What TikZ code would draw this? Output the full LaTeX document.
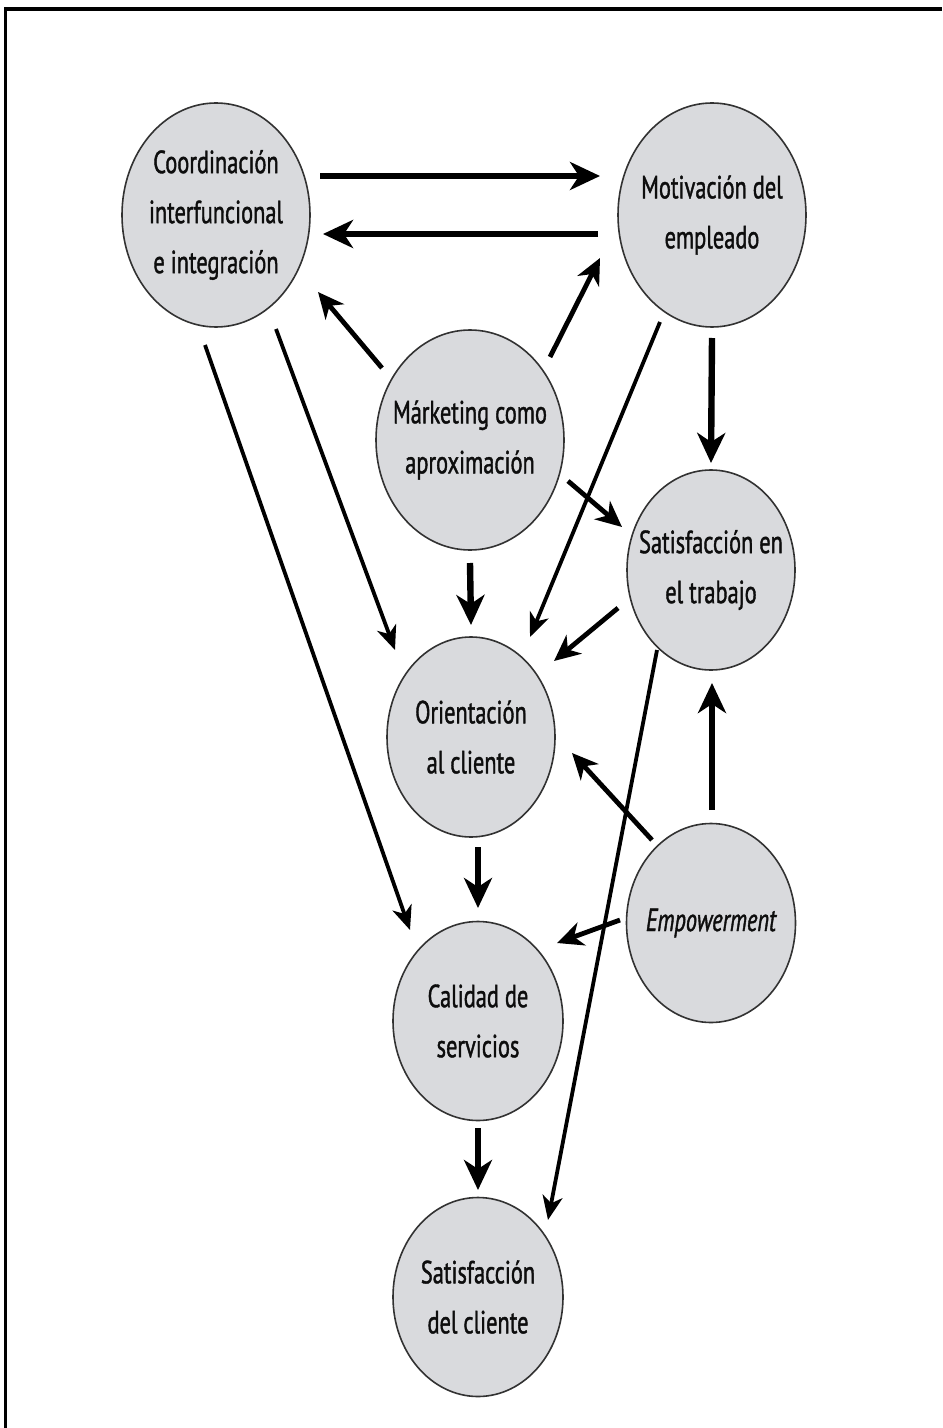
\documentclass[tikz,border=0pt]{standalone}
\usepackage{fontspec}
\setmainfont{PT Sans}[FakeStretch=0.7, FakeBold=1.2]
\usetikzlibrary{shapes.geometric,arrows.meta,calc}
\definecolor{bubblefill}{RGB}{217,218,221}
\definecolor{bubbleline}{RGB}{50,50,50}

\begin{document}
\begin{tikzpicture}[
  x=0.5pt, y=-0.5pt,
  % negative inner sep: the size of each ellipse is set by its minimum width/height only
  bubble/.style={ellipse, draw=bubbleline, line width=0.8pt, fill=bubblefill,
    inner xsep=-40pt, inner ysep=-40pt, align=center, text=black!95,
    font=\fontsize{16}{25}\selectfont},
  bigarr/.style={line width=3.2pt, -{Stealth[length=15pt,width=14pt,inset=4.5pt]}},
  midarr/.style={line width=2.4pt, -{Stealth[length=13pt,width=12pt,inset=4pt]}},
  thinarr/.style={line width=1.9pt, -{Stealth[length=12pt,width=10pt,inset=3.5pt]}}
]
\useasboundingbox (0,0) rectangle (942,1428);
\fill[white] (0,0) rectangle (942,1428);

% frame (top and left edges)
\draw[line width=2pt] (4,9) -- (942,9);
\draw[line width=1.3pt] (5.5,8) -- (5.5,1428);

% concepts
\node[bubble, minimum width=94pt, minimum height=112pt] (coord) at (216,215)
  {Coordinación\\interfuncional\\e integración};
\node[bubble, minimum width=94pt, minimum height=112pt] (motiv) at (712,215)
  {Motivación del\\empleado};
\node[bubble, minimum width=94pt, minimum height=110pt] (mkt) at (470,440)
  {Márketing como\\aproximación};
\node[bubble, minimum width=84pt, minimum height=100pt] (sattr) at (711,570)
  {Satisfacción en\\el trabajo};
\node[bubble, minimum width=84pt, minimum height=100pt] (orient) at (471,737)
  {Orientación\\al cliente};
\node[bubble, minimum width=84.5pt, minimum height=99.5pt] (empow) at (711,923)
  {\itshape Empowerment};
\node[bubble, minimum width=85pt, minimum height=99.5pt] (calid) at (478,1021)
  {Calidad de\\servicios};
\node[bubble, minimum width=85pt, minimum height=99.5pt] (satcl) at (478,1297)
  {Satisfacción\\del cliente};

% relations
\draw[bigarr]  ($(coord)+(104,-39)$) -- ($(motiv)+(-112,-39)$);
\draw[bigarr]  ($(motiv)+(-114,19)$) -- ($(coord)+(107,19)$);
\draw[midarr]  ($(mkt)+(-88,-72)$)   -- ($(coord)+(102,77)$);
\draw[midarr]  ($(mkt)+(80,-83)$)    -- ($(motiv)+(-112,43)$);
\draw[thinarr] ($(motiv)+(-52,107)$) -- ($(orient)+(59,-100)$);
\draw[bigarr]  ($(motiv)+(0,123)$)   -- ($(sattr)+(0,-107)$);
\draw[midarr]  ($(mkt)+(98,41)$)     -- ($(sattr)+(-89,-43)$);
\draw[bigarr]  ($(mkt)+(0,123)$)     -- ($(orient)+(0,-112)$);
\draw[midarr]  ($(sattr)+(-93,38)$)  -- ($(orient)+(83,-76)$);
\draw[thinarr] ($(coord)+(60,114)$)  -- ($(orient)+(-76,-87)$);
\draw[thinarr] ($(coord)+(-11,130)$) -- ($(calid)+(-68,-91)$);
\draw[thinarr] ($(sattr)+(-54,80)$)  -- ($(satcl)+(70,-77)$);
\draw[bigarr]  ($(empow)+(1,-113)$)  -- ($(sattr)+(1,113)$);
\draw[midarr]  ($(empow)+(-59,-83)$) -- ($(orient)+(101,16)$);
\draw[midarr]  ($(empow)+(-91,-3)$)  -- ($(calid)+(79,-78)$);
\draw[bigarr]  ($(orient)+(7,110)$)  -- ($(calid)+(0,-113)$);
\draw[bigarr]  ($(calid)+(0,107)$)   -- ($(satcl)+(0,-107)$);
\end{tikzpicture}
\end{document}
